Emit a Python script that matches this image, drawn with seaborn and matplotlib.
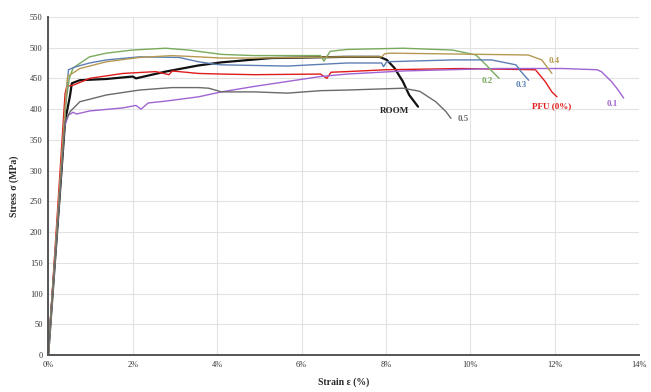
import matplotlib
matplotlib.use("Agg")
import matplotlib.pyplot as plt
import matplotlib.ticker as ticker
import seaborn as sns
import pandas as pd

# Strain (%) / stress (MPa)
room_strain = [0, 0.40, 0.52, 0.56, 0.75, 1.38, 2.00, 2.08, 2.78, 3.56, 4.10, 5.28, 7.08, 7.85, 8.02, 8.20, 8.40, 8.55, 8.76]
room_stress = [0, 380, 423, 442, 447, 449, 453, 450, 461, 471, 476, 483, 485, 485, 480, 467, 445, 423, 404]

pfu_strain = [0, 0.40, 0.44, 0.60, 0.98, 1.77, 2.55, 2.86, 2.94, 3.56, 4.10, 4.89, 6.45, 6.60, 6.70, 7.08, 8.00, 9.80, 11.54, 11.77, 11.93, 12.05]
pfu_stress = [0, 425, 437, 439, 450, 458, 461, 456, 462, 458, 457, 456, 457, 450, 460, 461, 464, 466, 464, 445, 428, 420]

s01_strain = [0, 0.38, 0.48, 0.59, 0.67, 0.98, 1.77, 2.08, 2.20, 2.37, 2.78, 3.56, 4.10, 4.89, 5.67, 6.45, 7.08, 8.41, 10.60, 12.20, 13.00, 13.10, 13.34, 13.50, 13.63]
s01_stress = [0, 370, 390, 395, 392, 397, 402, 406, 400, 410, 413, 420, 428, 437, 445, 453, 457, 462, 466, 466, 464, 461, 445, 431, 418]

s02_strain = [0, 0.42, 0.50, 0.59, 0.98, 1.38, 1.99, 2.78, 3.33, 4.10, 4.89, 6.45, 6.53, 6.68, 7.08, 8.41, 9.58, 10.13, 10.37, 10.52, 10.68]
s02_stress = [0, 410, 450, 467, 485, 491, 496, 499, 496, 489, 487, 487, 478, 494, 497, 499, 496, 488, 472, 461, 450]

s03_strain = [0, 0.42, 0.48, 0.66, 0.98, 1.38, 2.16, 3.10, 3.56, 3.95, 4.10, 5.67, 7.08, 7.90, 7.94, 8.02, 9.58, 10.50, 11.08, 11.20, 11.38]
s03_stress = [0, 415, 464, 469, 475, 480, 485, 484, 477, 473, 472, 470, 475, 475, 469, 477, 480, 480, 472, 461, 447]

s04_strain = [0, 0.42, 0.46, 0.75, 1.38, 2.16, 2.93, 3.56, 4.10, 4.89, 7.08, 7.90, 7.97, 8.10, 11.37, 11.69, 11.93]
s04_stress = [0, 420, 453, 466, 477, 484, 487, 485, 483, 483, 485, 485, 490, 491, 488, 480, 458]

s05_strain = [0, 0.40, 0.52, 0.75, 1.38, 2.16, 2.93, 3.56, 3.80, 4.11, 4.89, 5.67, 6.45, 7.08, 8.41, 8.80, 9.18, 9.42, 9.54]
s05_stress = [0, 380, 396, 412, 423, 431, 435, 435, 434, 428, 428, 426, 430, 431, 434, 429, 412, 396, 385]

names = ["ROOM", "PFU (0%)", "0.1", "0.2", "0.3", "0.4", "0.5"]
colors = ["#111111", "#e01b1b", "#a064d2", "#7aab5c", "#5b7fb4", "#b69a52", "#6a6a6a"]
label_x = [8.21, 11.93, 13.36, 10.40, 11.20, 11.99, 9.82]
label_y = [397, 405, 409, 446, 440, 479, 384]

sns.set_theme(style="whitegrid")
plt.rcParams['font.family'] = ['Liberation Serif', 'DejaVu Serif']

fig = plt.figure(figsize=(6.51, 3.92), dpi=100)
ax = fig.add_axes([0.074, 0.094, 0.908, 0.863])

series = [
    (room_strain, room_stress), (pfu_strain, pfu_stress), (s01_strain, s01_stress),
    (s02_strain, s02_stress), (s03_strain, s03_stress), (s04_strain, s04_stress),
    (s05_strain, s05_stress),
]

for (sx, sy), name, col in zip(series, names, colors):
    df = pd.DataFrame({"strain": sx, "stress": sy})
    lw = 1.6 if name == "ROOM" else 1.0
    sns.lineplot(data=df, x="strain", y="stress", sort=False, estimator=None,
                 color=col, linewidth=lw, ax=ax)

# curve labels
for name, col, lx, ly in zip(names, colors, label_x, label_y):
    tcol = "#222222" if name == "ROOM" else col
    ax.text(lx, ly, name, color=tcol, fontsize=6.5, fontweight="bold",
            ha="center", va="center")

ax.set_xlim(0, 14)
ax.set_ylim(0, 550)
ax.xaxis.set_major_locator(ticker.MultipleLocator(2))
ax.yaxis.set_major_locator(ticker.MultipleLocator(50))
ax.xaxis.set_major_formatter(ticker.FuncFormatter(lambda v, p: f"{v:.0f}%"))
ax.grid(True, color="#e2e2e2", linewidth=0.8)
ax.tick_params(labelsize=6, colors="#333333", length=2, pad=2)

for side in ["top", "right"]:
    ax.spines[side].set_visible(False)
for side in ["left", "bottom"]:
    ax.spines[side].set_color("#555555")
    ax.spines[side].set_linewidth(1.4)

ax.set_xlabel("Strain ε (%)", fontsize=7, fontweight="bold", labelpad=6)
ax.set_ylabel("Stress σ (MPa)", fontsize=7, fontweight="bold", labelpad=8)

fig.savefig("out.png", dpi=100)
